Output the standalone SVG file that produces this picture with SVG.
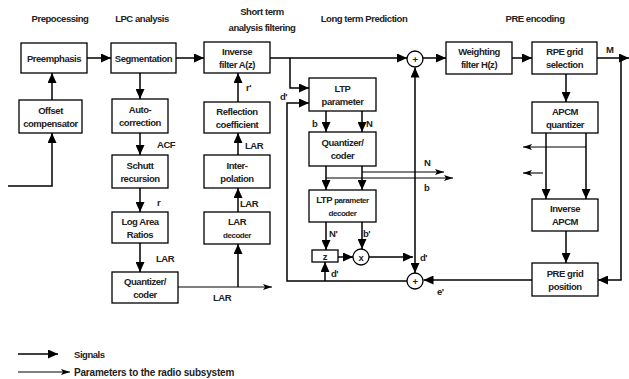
<svg xmlns="http://www.w3.org/2000/svg" width="629" height="379" viewBox="0 0 629 379">
<defs>
<marker id="a" markerWidth="10" markerHeight="9" refX="10" refY="4.5" orient="auto" markerUnits="userSpaceOnUse"><path d="M0,0 L10,4.5 L0,9 z" fill="#000"/></marker>
<marker id="p" markerWidth="9" markerHeight="6" refX="9" refY="3" orient="auto" markerUnits="userSpaceOnUse"><path d="M0,0 L9,3 L0,6 L2,3 z" fill="#000"/></marker>
</defs>
<style>
text{font-family:"Liberation Sans",Arial,sans-serif;font-size:9.5px;font-weight:bold;letter-spacing:-0.45px;fill:#222;text-anchor:middle}
.h{font-size:9.5px}
.l{text-anchor:start}
.s{font-size:8px}
rect{fill:#fff;stroke:#000;stroke-width:1.3}
circle{fill:#fff;stroke:#000;stroke-width:1.3}
.c path{fill:none;stroke:#000;stroke-width:1.5}
.c .t{stroke-width:1.1}
</style>
<rect x="0" y="0" width="629" height="379" style="fill:#fff;stroke:none"/>
<g id="headers">
<text class="h" x="60" y="22">Prepocessing</text>
<text class="h" x="142" y="22">LPC analysis</text>
<text class="h" x="262" y="15">Short term</text>
<text class="h" x="262" y="31">analysis filtering</text>
<text class="h" x="364" y="22">Long term Prediction</text>
<text class="h" x="535" y="22">PRE encoding</text>
</g>
<g class="c" id="connectors">
<path d="M87,58 H111" marker-end="url(#a)"/>
<path d="M176,58 H204" marker-end="url(#a)"/>
<path d="M270,58 H407" marker-end="url(#a)"/>
<path d="M290,58 V88 H309" marker-end="url(#a)"/>
<path d="M407,281 H287 V103 H309" marker-end="url(#a)"/>
<path d="M325,281 V262" marker-end="url(#a)"/>
<path d="M326,111 V132" marker-end="url(#a)"/>
<path d="M362,111 V132" marker-end="url(#a)"/>
<path d="M326,166 V190" marker-end="url(#a)"/>
<path d="M362,166 V190" marker-end="url(#a)"/>
<path class="t" d="M362,172 H444" marker-end="url(#p)"/>
<path class="t" d="M326,178 H453" marker-end="url(#p)"/>
<path d="M326,222 V250" marker-end="url(#a)"/>
<path d="M362,222 V249" marker-end="url(#a)"/>
<path d="M338,257 H353" marker-end="url(#a)"/>
<path d="M369,257 H413" marker-end="url(#a)"/>
<path d="M415,180 V67.5" marker-end="url(#a)"/>
<path d="M415,180 V273" marker-end="url(#a)"/>
<path d="M532,280 H423.5" marker-end="url(#a)"/>
<path d="M423,58 H446" marker-end="url(#a)"/>
<path d="M512,58 H532" marker-end="url(#a)"/>
<path d="M597,58 H629" marker-end="url(#a)"/>
<path d="M621,58 V280 H598" marker-end="url(#a)"/>
<path d="M566,74 V102" marker-end="url(#a)"/>
<path d="M546,133 V199" marker-end="url(#a)"/>
<path d="M586,133 V199" marker-end="url(#a)"/>
<path class="t" d="M586,147 H523" marker-end="url(#p)"/>
<path class="t" d="M543,173 H523" marker-end="url(#p)"/>
<path d="M566,231 V263" marker-end="url(#a)"/>
<path d="M140,73 V99" marker-end="url(#a)"/>
<path d="M140,133 V155" marker-end="url(#a)"/>
<path d="M140,188 V212" marker-end="url(#a)"/>
<path d="M140,243 V272" marker-end="url(#a)"/>
<path class="t" d="M178,287 H272" marker-end="url(#p)"/>
<path d="M238,287 V244" marker-end="url(#a)"/>
<path d="M238,212 V188" marker-end="url(#a)"/>
<path d="M238,155 V133" marker-end="url(#a)"/>
<path d="M238,102 V73" marker-end="url(#a)"/>
<path d="M52,100 V73" marker-end="url(#a)"/>
<path d="M8,186 H52 V133" marker-end="url(#a)"/>
</g>
<g id="labels">
<text class="l" x="157" y="148">ACF</text>
<text class="l" x="157" y="206">r</text>
<text class="l" x="156" y="262">LAR</text>
<text class="l" x="246" y="91">r'</text>
<text class="l" x="245" y="149">LAR</text>
<text class="l" x="240" y="207">LAR</text>
<text class="l" x="213" y="301">LAR</text>
<text class="l" x="280" y="100">d'</text>
<text class="l" x="312" y="127">b</text>
<text class="l" x="366" y="127">N</text>
<text class="l" x="424" y="166">N</text>
<text class="l" x="424" y="191">b</text>
<text class="l" x="329" y="237">N'</text>
<text class="l" x="363" y="237">b'</text>
<text class="l" x="331" y="277">d'</text>
<text class="l" x="420" y="261">d'</text>
<text class="l" x="437" y="295">e'</text>
<text class="l" x="606" y="53">M</text>
</g>
<g id="preemphasis"><rect x="21" y="43" width="66" height="30"/><text x="54" y="61.5">Preemphasis</text></g>
<g id="offset"><rect x="19" y="100" width="63" height="33"/><text x="50.5" y="114">Offset</text><text x="50.5" y="127">compensator</text></g>
<g id="segmentation"><rect x="111" y="43" width="65" height="30"/><text x="143.5" y="61.5">Segmentation</text></g>
<g id="autocorrection"><rect x="112" y="99" width="56" height="34"/><text x="140" y="113">Auto-</text><text x="140" y="126">correction</text></g>
<g id="schutt"><rect x="112" y="155" width="56" height="33"/><text x="140" y="169">Schutt</text><text x="140" y="182">recursion</text></g>
<g id="logarea"><rect x="112" y="212" width="56" height="31"/><text x="140" y="225">Log Area</text><text x="140" y="238">Ratios</text></g>
<g id="quantizer1"><rect x="112" y="272" width="66" height="31"/><text x="145" y="285">Quantizer/</text><text x="145" y="298">coder</text></g>
<g id="inversefilter"><rect x="204" y="42" width="66" height="31"/><text x="237" y="55">Inverse</text><text x="237" y="68">filter A(z)</text></g>
<g id="reflection"><rect x="204" y="102" width="66" height="31"/><text x="237" y="115">Reflection</text><text x="237" y="128">coefficient</text></g>
<g id="interpolation"><rect x="204" y="155" width="66" height="33"/><text x="237" y="169">Inter-</text><text x="237" y="182">polation</text></g>
<g id="lardecoder"><rect x="204" y="212" width="66" height="32"/><text x="237" y="225">LAR</text><text x="237" y="238" class="s">decoder</text></g>
<g id="ltpparameter"><rect x="309" y="78" width="67" height="33"/><text x="342.5" y="92">LTP</text><text x="342.5" y="105">parameter</text></g>
<g id="quantizer2"><rect x="309" y="132" width="67" height="34"/><text x="342.5" y="146">Quantizer/</text><text x="342.5" y="159">coder</text></g>
<g id="ltpdecoder"><rect x="309" y="190" width="67" height="32"/><text x="342.5" y="203">LTP <tspan style="font-size:8px">parameter</tspan></text><text x="342.5" y="216" class="s">decoder</text></g>
<g id="zbox"><rect x="312" y="250" width="26" height="12"/><text x="325" y="260">z</text></g>
<g id="mult"><circle cx="361" cy="257" r="8"/><text x="361" y="260.5">x</text></g>
<g id="sum1"><circle cx="415" cy="59" r="8"/><text x="415" y="62.5">+</text></g>
<g id="sum2"><circle cx="415" cy="281" r="8"/><text x="415" y="284.5">+</text></g>
<g id="weighting"><rect x="446" y="42" width="66" height="32"/><text x="479" y="55">Weighting</text><text x="479" y="68">filter H(z)</text></g>
<g id="rpegrid"><rect x="532" y="42" width="65" height="32"/><text x="564.5" y="55">RPE grid</text><text x="564.5" y="68">selection</text></g>
<g id="apcm"><rect x="532" y="102" width="66" height="31"/><text x="565" y="115">APCM</text><text x="565" y="128">quantizer</text></g>
<g id="invapcm"><rect x="532" y="199" width="66" height="32"/><text x="565" y="212">Inverse</text><text x="565" y="225">APCM</text></g>
<g id="pregrid"><rect x="532" y="263" width="66" height="33"/><text x="565" y="277">PRE grid</text><text x="565" y="290">position</text></g>
<g id="legend" class="c">
<path d="M18,354 H58" marker-end="url(#a)"/>
<path class="t" d="M18,372 H70" marker-end="url(#p)"/>
<text class="l" x="74" y="357.5">Signals</text>
<text class="l" x="74" y="375.5" style="font-size:10px;letter-spacing:-0.2px">Parameters to the radio subsystem</text>
</g>
</svg>
